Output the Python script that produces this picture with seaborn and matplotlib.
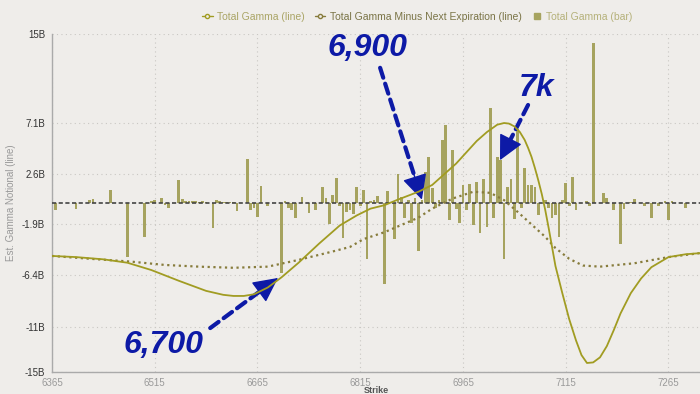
import matplotlib
matplotlib.use("Agg")
import matplotlib.pyplot as plt
import seaborn as sns
from matplotlib.lines import Line2D

# bars: total gamma per strike (billions)
bar_strikes = [6370, 6400, 6420, 6425, 6450, 6475, 6500, 6510, 6515, 6525, 6530, 6535,
               6550, 6555, 6560, 6565, 6570, 6575, 6580, 6585, 6590, 6600, 6605, 6610,
               6615, 6620, 6625, 6630, 6635, 6650, 6655, 6660, 6665, 6670, 6680, 6700,
               6705, 6710, 6715, 6720, 6730, 6740, 6750, 6760, 6765, 6770, 6775, 6780,
               6785, 6790, 6795, 6800, 6805, 6810, 6815, 6820, 6825, 6830, 6835, 6840,
               6850, 6855, 6865, 6870, 6875, 6880, 6885, 6890, 6895, 6900, 6905, 6910,
               6915, 6920, 6925, 6930, 6935, 6940, 6945, 6950, 6955, 6960, 6965, 6970,
               6975, 6980, 6985, 6990, 6995, 7000, 7005, 7010, 7015, 7020, 7025, 7030,
               7035, 7040, 7045, 7050, 7055, 7060, 7065, 7070, 7075, 7085, 7090, 7095,
               7100, 7105, 7110, 7115, 7120, 7125, 7130, 7145, 7150, 7155, 7170, 7175,
               7185, 7195, 7200, 7210, 7215, 7230, 7240, 7250, 7260, 7265, 7270, 7290]
bar_values = [-0.6, -0.5, 0.3, 0.35, 1.15, -4.8, -3.0, 0.2, 0.3, 0.45, -0.2, -0.4,
              2.0, 0.35, 0.2, 0.15, 0.15, 0.15, 0.1, 0.15, 0.1, -2.2, 0.25, 0.15,
              0.1, 0.1, 0.1, 0.1, -0.7, 3.9, -0.6, -0.4, -1.2, 1.5, -0.3, -6.2,
              0.2, -0.4, -0.6, -1.3, 0.55, -0.9, -0.6, 1.45, 0.45, -1.9, 0.7, 2.2,
              -0.3, -3.1, -0.8, -0.6, -1.0, 1.45, -0.3, 1.15, -5.0, 0.2, 0.25, 0.6,
              -7.2, 1.1, -3.2, 2.6, 0.55, -1.35, 0.3, -1.8, 0.45, -4.3, 0.3, 2.75,
              4.1, 1.3, -0.4, 0.25, 5.6, 6.9, -1.5, 4.7, -0.5, -1.8, 1.6, -0.6,
              1.7, -1.95, 1.85, -2.7, 2.1, -2.1, 8.4, -1.3, 4.1, 3.8, -5.0, 1.4,
              2.1, -1.4, 6.6, -0.45, 3.1, 1.6, 1.6, 1.4, -1.05, 0.25, -0.4, -1.3,
              -1.05, -3.0, 0.3, 1.75, -0.3, 2.3, -0.6, 0.2, -0.3, 14.2, 0.85, 0.45,
              -0.6, -3.6, -0.5, 0.1, 0.35, -0.3, -1.3, -0.3, 0.15, -1.55, 0.15, -0.45]

# total gamma line
line_strikes = [6365, 6400, 6440, 6475, 6510, 6550, 6590, 6615, 6630, 6645, 6660, 6680,
                6700, 6725, 6755, 6785, 6810, 6830, 6850, 6870, 6900, 6920, 6955, 6985,
                7000, 7015, 7025, 7032, 7040, 7048, 7055, 7060, 7065, 7070, 7075, 7080,
                7085, 7090, 7095, 7100, 7110, 7120, 7130, 7138, 7146, 7155, 7165, 7175,
                7185, 7195, 7210, 7225, 7240, 7265, 7290, 7311]
line_values = [-4.7, -4.8, -5.0, -5.3, -5.95, -6.9, -7.8, -8.15, -8.25, -8.25, -8.1, -7.5,
               -6.6, -5.3, -3.6, -2.0, -1.1, -0.5, -0.2, 0.3, 1.0, 1.6, 3.5, 5.5,
               6.3, 6.95, 7.1, 7.05, 6.8, 6.3, 5.6, 4.9, 4.1, 3.1, 2.0, 0.8,
               -0.6, -2.2, -3.9, -5.6, -8.0, -10.3, -12.2, -13.5, -14.2, -14.15, -13.7, -12.7,
               -11.3, -9.8, -8.0, -6.7, -5.7, -4.8, -4.55, -4.45]

# total gamma minus next expiration line
minus_strikes = [6365, 6420, 6480, 6530, 6580, 6630, 6680, 6725, 6775, 6800, 6820, 6850,
                 6900, 6920, 6950, 6980, 7005, 7025, 7045, 7065, 7085, 7100, 7120, 7140,
                 7165, 7215, 7265, 7311]
minus_values = [-4.7, -4.95, -5.2, -5.5, -5.65, -5.75, -5.65, -5.05, -4.3, -3.9, -3.2, -2.6,
                -1.3, -0.5, 0.4, 1.0, 0.9, 0.25, -0.8, -1.9, -3.0, -4.0, -4.95, -5.55,
                -5.65, -5.35, -4.8, -4.45]

x_ticks = [6365, 6515, 6665, 6815, 6965, 7115, 7265]
y_ticks = [15, 7.1, 2.6, -1.9, -6.4, -11, -15]
y_labels = ["15B", "7.1B", "2.6B", "-1.9B", "-6.4B", "-11B", "-15B"]

bg = "#efedea"
bar_color = "#a6a35f"
line_color = "#a19c22"
minus_color = "#877c3c"
blue = "#0d1aa6"

sns.set_theme(style="white")
plt.rcParams["font.family"] = ["Liberation Sans", "DejaVu Sans"]

fig = plt.figure(figsize=(7, 3.94), dpi=100, facecolor=bg)
ax = fig.add_axes([52 / 700, 22 / 394, 648 / 700, 338 / 394])
ax.set_facecolor(bg)

sns.barplot(x=bar_strikes, y=bar_values, native_scale=True, color=bar_color,
            saturation=1, errorbar=None, linewidth=0, ax=ax, zorder=2)
# widen bars to ~4 strikes each, centred on their strike
for p, s in zip(ax.patches, bar_strikes):
    p.set_width(4.0)
    p.set_x(s - 2.0)
    p.set_linewidth(0)
ax.axhline(0, color="#444444", lw=1.2, ls=(0, (2.5, 1.5)), zorder=3)
sns.lineplot(x=minus_strikes, y=minus_values, color=minus_color, lw=1.6,
             ls=(0, (1, 1.6)), ax=ax, zorder=4)
sns.lineplot(x=line_strikes, y=line_values, color=line_color, lw=1.3, ax=ax, zorder=5)

ax.set_xlim(6365, 7311)
ax.set_ylim(-15, 15)
ax.set_xticks(x_ticks)
ax.set_xticklabels([str(t) for t in x_ticks], color="#9a9a9a", fontsize=7)
ax.set_yticks(y_ticks)
ax.set_yticklabels(y_labels, color="#333333", fontsize=7)
ax.tick_params(axis="y", length=3, color="#aaaaaa", pad=2)
ax.tick_params(axis="x", length=3, color="#aaaaaa", pad=1)
ax.grid(True, color="#c9c7c3", ls=(0, (1, 3)), lw=0.8, zorder=0)
for s in ["top", "right"]:
    ax.spines[s].set_visible(False)
for s in ["left", "bottom"]:
    ax.spines[s].set_color("#aaaaaa")
    ax.spines[s].set_linewidth(1.0)
ax.set_xlabel("Strike", color="#555555", fontsize=6.5, fontweight="bold", labelpad=-1)
ax.set_ylabel("Est. Gamma Notional (line)", color="#999999", fontsize=7, labelpad=4)

# annotations: dashed shaft plus a solid triangular head
ann = dict(color=blue, fontsize=23, fontweight="bold", style="italic",
           ha="center", va="center")
shaft = dict(arrowstyle="-", color=blue, lw=3, ls=(0, (2.5, 1.5)), shrinkA=0, shrinkB=0)
head = dict(arrowstyle="-|>,head_length=1.3,head_width=0.65", color=blue, lw=1,
            shrinkA=0, shrinkB=0)


def dashed_arrow(x0, y0, x1, y1):
    # the head sits on the last fifth of the segment
    hx = x1 - (x1 - x0) * 0.2
    hy = y1 - (y1 - y0) * 0.2
    ax.annotate("", xy=(hx, hy), xytext=(x0, y0), arrowprops=shaft)
    ax.annotate("", xy=(x1, y1), xytext=(hx, hy), arrowprops=head)


ax.text(6825, 13.75, "6,900", **ann)
dashed_arrow(6844, 12.0, 6905, 0.3)
ax.text(7073, 10.2, "7k", **ann)
dashed_arrow(7060, 8.7, 7019, 3.8)
ax.text(6527, -12.6, "6,700", **ann)
dashed_arrow(6596, -11.1, 6695, -6.65)

# legend
handles = [
    Line2D([0], [0], color=line_color, lw=1, marker="o", ms=3, mfc=bg, mec=line_color),
    Line2D([0], [0], color=minus_color, lw=1, marker="o", ms=3, mfc=bg, mec=minus_color),
    Line2D([0], [0], color=bar_color, lw=0, marker="s", ms=5),
]
labels = ["Total Gamma (line)", "Total Gamma Minus Next Expiration (line)", "Total Gamma (bar)"]
leg = fig.legend(handles, labels, loc="center right", bbox_to_anchor=(0.91, 0.957), ncol=3,
                 frameon=False, fontsize=7.5, handlelength=1.0, columnspacing=1.0,
                 handletextpad=0.4, borderaxespad=0)
for t, c in zip(leg.get_texts(), ["#aaa566", "#7a7446", "#b5b17a"]):
    t.set_color(c)

fig.savefig("out.png", dpi=100, facecolor=bg)
